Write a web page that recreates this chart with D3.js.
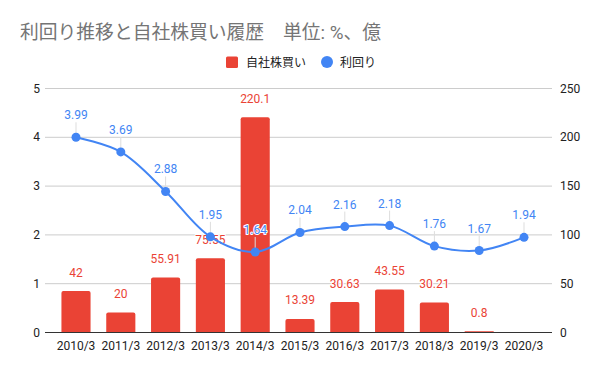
<!DOCTYPE html>
<html><head><meta charset="utf-8">
<script src="https://cdn.jsdelivr.net/npm/d3@7"></script>
<style>body{margin:0;background:#fff}svg{display:block;font-family:Roboto,"Noto Sans CJK JP",sans-serif}</style>
</head><body>
<svg id="c" width="600" height="371"></svg>
<script>
const categories = ["2010/3","2011/3","2012/3","2013/3","2014/3","2015/3","2016/3","2017/3","2018/3","2019/3","2020/3"];
const buyback = [42,20,55.91,75.55,220.1,13.39,30.63,43.55,30.21,0.8,null];
const yieldPct = [3.99,3.69,2.88,1.95,1.64,2.04,2.16,2.18,1.76,1.67,1.94];
const leftTicks = [0,1,2,3,4,5];
const rightTicks = [0,50,100,150,200,250];

const svg = d3.select("#c");
const L = 45, R = 552, T = 88, B = 332;
const x = d3.scaleBand().domain(categories).range([53.6, 546.4]).paddingInner(0.35).paddingOuter(0.175);
const yL = d3.scaleLinear().domain([0,5]).range([B,T]);
const yR = d3.scaleLinear().domain([0,250]).range([B,T]);
const RED = "#ea4335", BLUE = "#4285f4";

// title
svg.append("text").attr("x",20).attr("y",39).attr("fill","#757575").attr("font-size",18.8).text("利回り推移と自社株買い履歴　単位: %、億");

// legend
svg.append("rect").attr("x",226).attr("y",56.5).attr("width",12).attr("height",11.5).attr("rx",1.5).attr("fill",RED);
svg.append("text").attr("x",246).attr("y",66.5).attr("font-size",12).attr("fill","#222").text("自社株買い");
svg.append("circle").attr("cx",327).attr("cy",62).attr("r",6).attr("fill",BLUE);
svg.append("text").attr("x",340).attr("y",66.5).attr("font-size",12).attr("fill","#222").text("利回り");

// grid
svg.append("g").selectAll("line").data(leftTicks.slice(1)).join("line")
  .attr("x1",L).attr("x2",R).attr("y1",d=>yL(d)+0.5).attr("y2",d=>yL(d)+0.5)
  .attr("stroke","#cccccc").attr("stroke-width",1);

// left axis labels
svg.append("g").selectAll("text").data(leftTicks).join("text")
  .attr("x",40).attr("y",d=>yL(d)+4.5).attr("text-anchor","end").attr("font-size",12).attr("fill","#222").text(d=>d);
// right axis labels
svg.append("g").selectAll("text").data(rightTicks).join("text")
  .attr("x",560).attr("y",d=>yR(d)+4.5).attr("text-anchor","start").attr("font-size",12).attr("fill","#222").text(d=>d);

// bars
const bdata = categories.map((c,i)=>({c,v:buyback[i]})).filter(d=>d.v!=null);
svg.append("g").selectAll("path").data(bdata).join("path")
  .attr("fill",RED)
  .attr("d",d=>{
    const x0=x(d.c), w=x.bandwidth(), y0=yR(d.v), h=B-y0, r=Math.min(2,h/2);
    return `M${x0},${B}V${y0+r}Q${x0},${y0} ${x0+r},${y0}H${x0+w-r}Q${x0+w},${y0} ${x0+w},${y0+r}V${B}Z`;
  });

// baseline
svg.append("line").attr("x1",L).attr("x2",R).attr("y1",B+0.5).attr("y2",B+0.5).attr("stroke","#333").attr("stroke-width",1);

// x labels
svg.append("g").selectAll("text").data(categories).join("text")
  .attr("x",d=>x(d)+x.bandwidth()/2).attr("y",350).attr("text-anchor","middle").attr("font-size",12).attr("fill","#222").text(d=>d);

// bar labels
svg.append("g").selectAll("text").data(bdata).join("text")
  .attr("x",d=>x(d.c)+x.bandwidth()/2).attr("y",d=>yR(d.v)-14.5).attr("text-anchor","middle").attr("font-size",12)
  .attr("fill",RED).attr("stroke","#fff").attr("stroke-width",2).attr("paint-order","stroke").attr("stroke-linejoin","round")
  .text(d=>d.v);

// line
const pts = categories.map((c,i)=>({c,v:yieldPct[i]}));
const cx = d=>x(d.c)+x.bandwidth()/2;
// leader lines
svg.append("g").selectAll("line").data(pts).join("line")
  .attr("x1",cx).attr("x2",cx).attr("y1",d=>yL(d.v)-4).attr("y2",d=>yL(d.v)-15)
  .attr("stroke","#dddddd").attr("stroke-width",1);
svg.append("path").datum(pts)
  .attr("d",d3.line().x(cx).y(d=>yL(d.v)).curve(d3.curveCatmullRom.alpha(0.5)))
  .attr("fill","none").attr("stroke",BLUE).attr("stroke-width",2);
svg.append("g").selectAll("circle").data(pts).join("circle")
  .attr("cx",cx).attr("cy",d=>yL(d.v)).attr("r",4.5).attr("fill",BLUE);
svg.append("g").selectAll("text").data(pts).join("text")
  .attr("x",cx).attr("y",d=>yL(d.v)-18).attr("text-anchor","middle").attr("font-size",12)
  .attr("fill",BLUE).attr("stroke","#fff").attr("stroke-width",2).attr("paint-order","stroke").attr("stroke-linejoin","round")
  .text(d=>d.v.toFixed(2));
</script>
</body></html>
